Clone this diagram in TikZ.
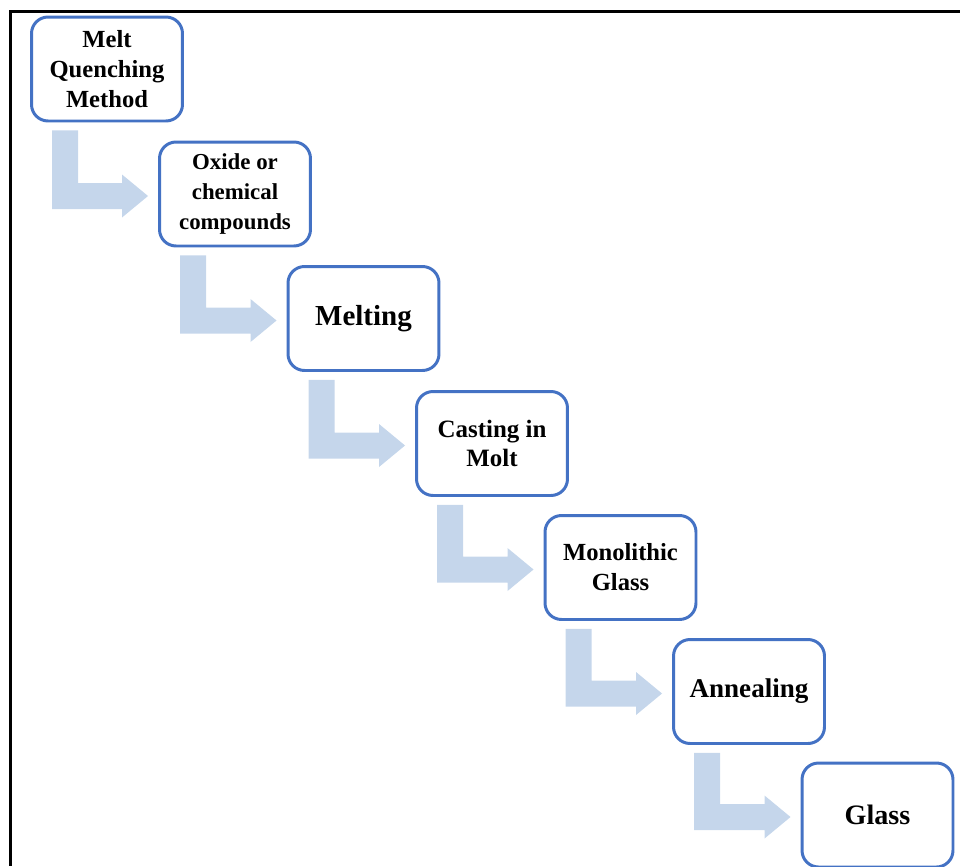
\documentclass[tikz,border=0pt]{standalone}
\usepackage{xcolor}
\usepackage{fontspec}
\setmainfont{Liberation Serif}
\usepackage{tikz}
\usetikzlibrary{calc}
\definecolor{boxblue}{HTML}{4472C4}
\definecolor{flowblue}{HTML}{C5D6EB}
\tikzset{
  stage/.style={draw=boxblue, line width=1.7pt, rounded corners=0.33cm, fill=white,
    minimum width=3.02cm, minimum height=2.08cm, align=center, inner sep=2pt,
    font=\bfseries\fs{#1}},
  flow/.style={fill=flowblue}
}
\newcommand{\fs}[1]{\fontsize{#1}{17}\selectfont}

\begin{document}
\begin{tikzpicture}[x=0.02cm, y=-0.02cm]
\useasboundingbox (0,0) rectangle (960,866);
\draw[black, line width=1.7pt] (960,11.5) -- (10.5,11.5) -- (10.5,866);

\node[stage=14]   (quench)   at (107,69)    {Melt\\Quenching\\Method};
\node[stage=13]   (oxide)    at (235,194) {Oxide or\\chemical\\compounds};
\node[stage=16.5] (melting)  at (363.5,318.5) {Melting};
\node[stage=14.2] (casting)  at (492,443.5) {Casting in\\Molt};
\node[stage=14]   (monolith) at (620.5,567.5) {Monolithic\\Glass};
\node[stage=15.4] (anneal)   at (749,691.5)   {Annealing};
\node[stage=16]   (glass)    at (877.5,815) {Glass};

\foreach \a/\b in {quench/oxide, oxide/melting, melting/casting, casting/monolith, monolith/anneal, anneal/glass} {
  \coordinate (s) at ($(\a.south west)+(22,8)$);
  \coordinate (t) at ($(\b.west)+(-10,2)$);
  \coordinate (h) at (s |- t);
  \fill[flow] (s) -- ++(26,0) -- ($(h)+(26,-13)$) -- ($(t)+(-26,-13)$) -- ($(t)+(-26,-21.5)$)
    -- (t) -- ($(t)+(-26,21.5)$) -- ($(t)+(-26,13)$) -- ($(h)+(0,13)$) -- cycle;
}
\end{tikzpicture}
\end{document}
